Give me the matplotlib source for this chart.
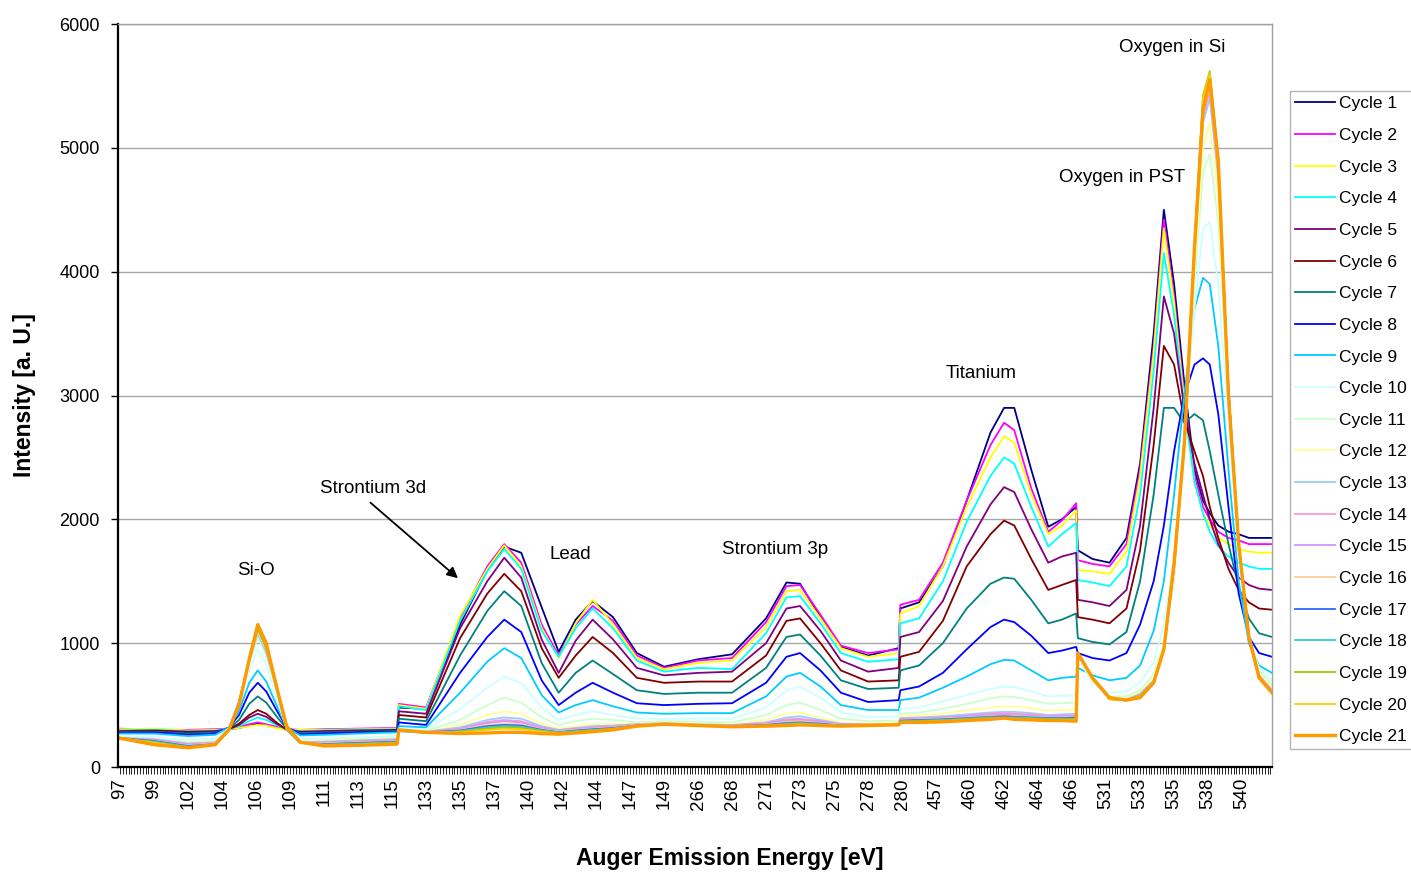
import matplotlib
matplotlib.use("Agg")
import matplotlib.pyplot as plt
from matplotlib.ticker import MultipleLocator

plt.rcParams['font.family'] = ['Liberation Sans', 'DejaVu Sans']

# channel positions on the category axis (one unit = one labelled energy step);
# the four windows are Si, Sr 3d / Pb / Sr 3p, Ti and O
pos = [-0.05, 1.0, 2.0, 2.8, 3.2, 3.5, 3.8, 4.05, 4.3, 4.6, 4.9, 5.3, 6.0, 7.0, 8.15,
       8.2, 9.0, 10.0, 10.8, 11.3, 11.8, 12.4, 12.9, 13.4, 13.9, 14.5, 15.2, 16.0, 17.0,
       18.0, 19.0, 19.6, 20.0, 20.6, 21.2, 22.0, 22.9,
       22.95, 23.5, 24.2, 24.9, 25.6, 26.0, 26.3, 26.8, 27.3, 27.7, 28.12,
       28.17, 28.6, 29.1, 29.6, 30.0, 30.4, 30.7, 31.0, 31.3, 31.6, 31.85, 32.05, 32.3,
       32.6, 32.9, 33.2, 33.5, 33.88]

energy_labels = ["97", "99", "102", "104", "106", "109", "111", "113", "115",
                 "133", "135", "137", "140", "142", "144", "147", "149",
                 "266", "268", "271", "273", "275", "278", "280",
                 "457", "460", "462", "464", "466",
                 "531", "533", "535", "538", "540"]

cycle1 = [300, 305, 290, 300, 305, 315, 335, 350, 340, 320, 305, 295, 300, 305, 310,
          480, 470, 1150, 1590, 1780, 1730, 1290, 930, 1190, 1340, 1210, 920, 810, 870, 910, 1200, 1490, 1480, 1210, 970, 900, 960,
          1280, 1330, 1620, 2150, 2700, 2900, 2900, 2400, 1940, 2000, 2100,
          1750, 1680, 1650, 1850, 2450, 3500, 4500, 3900, 3100, 2400, 2150, 2050, 1950, 1900, 1880, 1850, 1850, 1850]
cycle2 = [310, 300, 300, 305, 310, 325, 345, 360, 345, 325, 305, 300, 305, 310, 315,
          510, 480, 1200, 1620, 1800, 1650, 1150, 900, 1150, 1300, 1180, 900, 800, 860, 880, 1170, 1460, 1470, 1230, 980, 920, 950,
          1310, 1350, 1650, 2150, 2600, 2780, 2720, 2250, 1900, 1990, 2130,
          1670, 1640, 1620, 1800, 2400, 3400, 4420, 3800, 3000, 2350, 2100, 2000, 1900, 1850, 1830, 1800, 1800, 1800]
cycle3 = [305, 310, 295, 300, 305, 315, 330, 340, 335, 315, 300, 300, 300, 305, 310,
          500, 470, 1220, 1600, 1790, 1620, 1120, 880, 1160, 1350, 1150, 880, 790, 840, 860, 1130, 1420, 1430, 1200, 960, 890, 920,
          1240, 1300, 1620, 2100, 2500, 2670, 2620, 2200, 1880, 1950, 2070,
          1590, 1580, 1560, 1740, 2350, 3350, 4350, 3750, 2950, 2300, 2050, 1950, 1850, 1800, 1760, 1740, 1730, 1730]
cycle4 = [295, 300, 290, 295, 305, 330, 370, 400, 380, 340, 305, 290, 295, 300, 305,
          490, 460, 1180, 1580, 1760, 1600, 1100, 890, 1120, 1280, 1120, 860, 770, 800, 790, 1080, 1370, 1380, 1160, 920, 850, 870,
          1160, 1200, 1500, 1980, 2350, 2500, 2450, 2100, 1780, 1880, 1970,
          1510, 1490, 1460, 1620, 2200, 3200, 4150, 3650, 2900, 2300, 2050, 1900, 1780, 1700, 1650, 1620, 1600, 1600]
cycle5 = [290, 295, 285, 290, 305, 340, 400, 430, 405, 350, 305, 285, 290, 295, 300,
          450, 430, 1120, 1500, 1690, 1530, 1030, 760, 1020, 1190, 1030, 800, 740, 760, 770, 1000, 1280, 1300, 1100, 860, 770, 800,
          1050, 1090, 1340, 1780, 2120, 2260, 2220, 1920, 1650, 1700, 1730,
          1350, 1330, 1300, 1430, 1950, 2900, 3800, 3500, 2900, 2450, 2200, 2000, 1800, 1650, 1530, 1470, 1440, 1430]
cycle6 = [285, 290, 280, 285, 305, 350, 420, 460, 430, 360, 300, 280, 285, 290, 295,
          420, 400, 1040, 1400, 1560, 1420, 960, 720, 900, 1050, 920, 720, 680, 690, 690, 900, 1180, 1200, 1000, 780, 690, 700,
          890, 930, 1180, 1620, 1880, 1990, 1950, 1680, 1430, 1470, 1510,
          1210, 1190, 1160, 1280, 1750, 2600, 3400, 3250, 2800, 2550, 2350, 2100, 1850, 1600, 1430, 1330, 1280, 1270]
cycle7 = [280, 285, 270, 280, 310, 380, 510, 570, 520, 410, 310, 275, 280, 285, 290,
          390, 370, 900, 1260, 1420, 1300, 840, 600, 760, 860, 750, 620, 590, 600, 600, 800, 1050, 1070, 900, 700, 630, 640,
          780, 820, 1000, 1280, 1480, 1530, 1520, 1350, 1160, 1190, 1240,
          1040, 1010, 990, 1090, 1500, 2200, 2900, 2900, 2780, 2850, 2800, 2550, 2200, 1800, 1450, 1200, 1080, 1050]
cycle8 = [275, 280, 260, 270, 320, 420, 600, 680, 610, 460, 320, 265, 270, 280, 285,
          360, 340, 760, 1050, 1190, 1090, 700, 500, 600, 680, 600, 515, 500, 510, 515, 680, 890, 920, 780, 600, 525, 540,
          620, 650, 760, 950, 1130, 1190, 1170, 1060, 920, 940, 970,
          920, 880, 860, 920, 1150, 1500, 1950, 2550, 3000, 3250, 3300, 3250, 2850, 2100, 1400, 1050, 920, 890]
cycle9 = [270, 270, 250, 260, 320, 450, 680, 780, 690, 500, 320, 255, 260, 270, 280,
          330, 320, 600, 850, 960, 880, 580, 440, 500, 540, 490, 440, 430, 435, 435, 570, 730, 760, 650, 500, 460, 460,
          540, 560, 640, 730, 830, 865, 860, 780, 700, 720, 730,
          800, 740, 700, 720, 820, 1100, 1500, 2200, 3000, 3700, 3950, 3900, 3400, 2400, 1500, 1000, 820, 760]
cycle10 = [250, 240, 220, 230, 310, 500, 780, 950, 830, 560, 310, 225, 230, 240, 250,
           310, 300, 470, 640, 730, 680, 480, 380, 420, 450, 420, 390, 390, 390, 390, 480, 620, 650, 560, 440, 400, 410,
           470, 480, 530, 580, 630, 650, 645, 610, 570, 575, 580,
           880, 680, 600, 610, 680, 850, 1150, 1700, 2700, 3700, 4350, 4400, 3900, 2800, 1700, 1050, 800, 700]
cycle11 = [240, 230, 200, 210, 310, 520, 830, 1050, 900, 620, 310, 210, 215, 225, 235,
           300, 290, 380, 500, 560, 520, 400, 340, 370, 390, 380, 360, 370, 365, 360, 420, 500, 520, 460, 390, 370, 375,
           430, 440, 470, 510, 555, 570, 565, 540, 510, 515, 520,
           900, 680, 570, 570, 620, 750, 1000, 1500, 2600, 3900, 4800, 4950, 4400, 3000, 1750, 1060, 780, 660]
cycle12 = [240, 225, 195, 205, 310, 530, 860, 1090, 935, 640, 310, 205, 210, 220, 230,
           295, 285, 340, 420, 450, 430, 350, 310, 330, 345, 345, 350, 360, 350, 345, 380, 430, 440, 400, 360, 355, 360,
           410, 415, 430, 460, 480, 490, 488, 475, 455, 460, 465,
           910, 700, 560, 555, 600, 720, 980, 1550, 2600, 4000, 5000, 5200, 4600, 3000, 1780, 1060, 760, 640]
cycle13 = [235, 225, 190, 200, 305, 525, 850, 1080, 925, 635, 305, 200, 205, 215, 225,
           300, 285, 320, 380, 400, 390, 330, 300, 315, 330, 335, 345, 355, 345, 340, 360, 400, 410, 380, 350, 345, 350,
           395, 400, 410, 425, 440, 445, 445, 435, 420, 425, 430,
           915, 710, 555, 545, 590, 700, 960, 1600, 2600, 4100, 5200, 5400, 4750, 3000, 1790, 1060, 740, 620]
cycle14 = [235, 220, 185, 195, 305, 530, 860, 1100, 940, 645, 305, 200, 200, 210, 220,
           295, 280, 310, 365, 380, 370, 320, 295, 310, 320, 330, 345, 350, 340, 335, 355, 385, 390, 370, 345, 345, 345,
           390, 395, 400, 415, 430, 435, 430, 425, 410, 415, 420,
           915, 710, 555, 545, 585, 695, 955, 1600, 2600, 4150, 5250, 5450, 4800, 3000, 1790, 1060, 740, 620]
cycle15 = [230, 215, 180, 190, 300, 530, 865, 1110, 950, 650, 300, 195, 195, 205, 215,
           290, 280, 305, 355, 370, 360, 315, 290, 305, 315, 325, 340, 350, 340, 335, 350, 375, 380, 365, 345, 340, 345,
           385, 390, 395, 410, 420, 425, 420, 415, 405, 410, 410,
           915, 715, 550, 540, 580, 690, 950, 1600, 2600, 4150, 5300, 5500, 4850, 3050, 1800, 1060, 735, 615]
cycle16 = [230, 210, 175, 190, 300, 525, 860, 1100, 945, 645, 300, 195, 190, 200, 210,
           290, 275, 300, 340, 350, 345, 305, 285, 300, 310, 320, 340, 350, 340, 330, 345, 365, 370, 355, 340, 340, 345,
           380, 385, 390, 400, 410, 415, 410, 405, 400, 400, 405,
           918, 715, 550, 540, 580, 690, 950, 1620, 2620, 4180, 5300, 5500, 4850, 3050, 1800, 1060, 730, 610]
cycle17 = [235, 210, 170, 185, 300, 520, 870, 1130, 965, 660, 305, 195, 185, 195, 205,
           295, 280, 295, 330, 340, 335, 300, 280, 295, 305, 315, 335, 345, 335, 330, 340, 355, 360, 350, 335, 340, 340,
           375, 380, 385, 395, 405, 410, 405, 400, 395, 395, 400,
           918, 718, 550, 538, 575, 685, 950, 1630, 2620, 4200, 5350, 5550, 4880, 3050, 1800, 1055, 725, 605]
cycle18 = [230, 205, 165, 185, 300, 510, 875, 1140, 975, 665, 310, 195, 180, 190, 200,
           290, 275, 290, 320, 330, 325, 295, 280, 290, 300, 310, 335, 345, 335, 325, 335, 350, 355, 345, 335, 335, 340,
           370, 375, 380, 390, 400, 400, 400, 395, 390, 390, 390,
           920, 718, 548, 538, 575, 685, 950, 1640, 2620, 4200, 5400, 5600, 4900, 3050, 1800, 1055, 722, 602]
cycle19 = [235, 200, 160, 180, 295, 510, 865, 1120, 960, 655, 305, 195, 180, 185, 195,
           295, 280, 285, 310, 320, 315, 290, 275, 285, 295, 310, 330, 345, 335, 325, 335, 345, 350, 340, 330, 335, 340,
           365, 370, 375, 385, 395, 395, 395, 390, 385, 385, 385,
           920, 720, 548, 538, 575, 682, 950, 1640, 2620, 4200, 5420, 5620, 4900, 3050, 1800, 1052, 720, 600]
cycle20 = [235, 195, 155, 180, 295, 505, 880, 1150, 985, 670, 320, 200, 175, 180, 190,
           300, 280, 280, 300, 310, 305, 285, 270, 280, 290, 305, 330, 345, 335, 325, 330, 340, 345, 340, 330, 335, 340,
           360, 365, 370, 380, 390, 395, 390, 385, 380, 380, 380,
           920, 720, 545, 538, 570, 680, 950, 1650, 2600, 4200, 5400, 5600, 4900, 3030, 1800, 1050, 720, 600]
cycle21 = [235, 180, 155, 180, 300, 500, 870, 1150, 1000, 650, 330, 200, 170, 175, 185,
           300, 280, 270, 275, 280, 280, 270, 265, 275, 285, 300, 330, 345, 335, 325, 330, 335, 340, 335, 330, 335, 340,
           360, 360, 365, 375, 385, 395, 385, 380, 375, 375, 370,
           920, 720, 560, 540, 560, 680, 950, 1650, 2600, 4200, 5300, 5550, 4900, 3000, 1800, 1050, 720, 600]

series = [cycle1, cycle2, cycle3, cycle4, cycle5, cycle6, cycle7, cycle8, cycle9, cycle10,
          cycle11, cycle12, cycle13, cycle14, cycle15, cycle16, cycle17, cycle18, cycle19,
          cycle20, cycle21]

# classic spreadsheet line palette
colors = ["#000080", "#FF00FF", "#FFFF00", "#00FFFF", "#800080", "#800000", "#008080",
          "#0000FF", "#00CCFF", "#CCFFFF", "#CCFFCC", "#FFFF99", "#99CCFF", "#FF99CC",
          "#CC99FF", "#FFCC99", "#3366FF", "#33CCCC", "#99CC00", "#FFCC00", "#FF9900"]

W, H = 1411, 875
fig = plt.figure(figsize=(W / 100, H / 100), dpi=100)
ax = fig.add_axes([118 / W, 1 - 767 / H, (1272 - 118) / W, (767 - 24) / H])

for i, (vals, col) in enumerate(zip(series, colors)):
    lw = 2.4 if i == len(series) - 1 else 1.3
    ax.plot(pos, vals, color=col, lw=lw, label=f"Cycle {i + 1}", solid_joinstyle="round")

ax.set_xlim(-0.06, 33.88)
ax.set_ylim(0, 6000)
ax.set_yticks(range(0, 6001, 1000))
ax.yaxis.grid(True, color="#a8a8a8", lw=1.0)
ax.set_axisbelow(True)

ax.set_xticks(range(len(energy_labels)))
ax.set_xticklabels(energy_labels, rotation=90)
ax.xaxis.set_minor_locator(MultipleLocator(1 / 12))
ax.tick_params(axis="x", which="both", length=5, width=0.6, pad=3, labelsize=13.5)
ax.tick_params(axis="y", length=5, width=1.0, pad=8, labelsize=13)

for side in ("left", "bottom"):
    ax.spines[side].set_color("black")
    ax.spines[side].set_linewidth(1.6)
for side in ("top", "right"):
    ax.spines[side].set_color("#a0a0a0")
    ax.spines[side].set_linewidth(1.0)

fig.text(25 / W, 1 - 395 / H, "Intensity [a. U.]", rotation=90, ha="center", va="center",
         fontsize=16.5, fontweight="bold")
fig.text(730 / W, 1 - 858 / H, "Auger Emission Energy [eV]", ha="center", va="center",
         fontsize=16.5, fontweight="bold")

# peak annotations
ax.text(4.0, 1590, "Si-O", ha="center", va="center", fontsize=13.5)
ax.text(7.44, 2245, "Strontium 3d", ha="center", va="center", fontsize=13.5)
ax.annotate("", xy=(10.0, 1510), xytext=(7.3, 2150),
            arrowprops=dict(arrowstyle="-|>", color="black", lw=1.3, mutation_scale=16))
ax.text(13.24, 1712, "Lead", ha="center", va="center", fontsize=13.5)
ax.text(19.26, 1753, "Strontium 3p", ha="center", va="center", fontsize=13.5)
ax.text(25.32, 3175, "Titanium", ha="center", va="center", fontsize=13.5)
ax.text(29.47, 4758, "Oxygen in PST", ha="center", va="center", fontsize=13.5)
ax.text(30.94, 5810, "Oxygen in Si", ha="center", va="center", fontsize=13.5)

handles, labels = ax.get_legend_handles_labels()
fig.legend(handles, labels, loc="upper left", bbox_to_anchor=(1290 / W, 1 - 91 / H),
           borderaxespad=0, frameon=True, fancybox=False, edgecolor="#a0a0a0",
           fontsize=12.5, handlelength=2.3, handletextpad=0.2, labelspacing=0.95,
           borderpad=0.3)

fig.savefig("out.png", dpi=100)
